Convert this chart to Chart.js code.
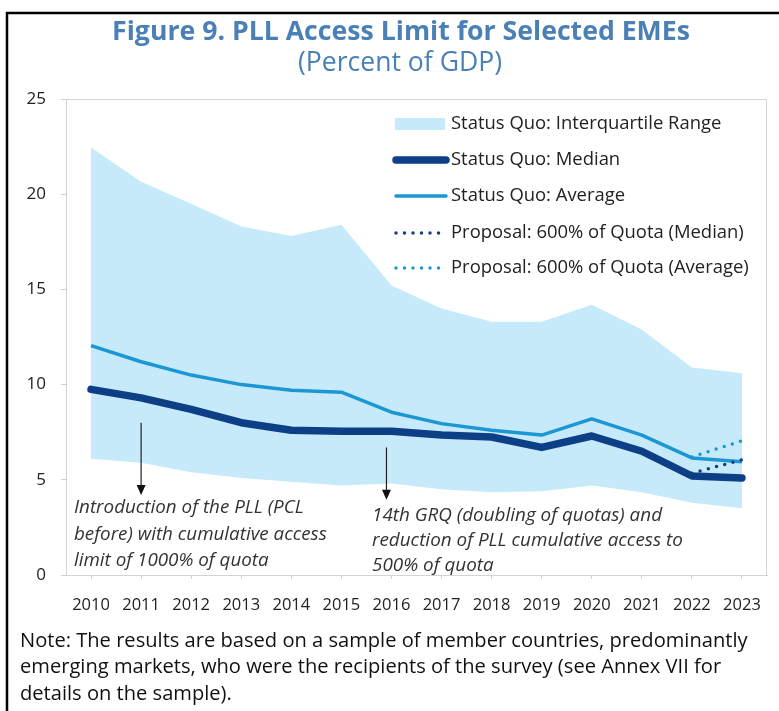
<!DOCTYPE html>
<html>
<head>
<meta charset="utf-8">
<script src="https://cdn.jsdelivr.net/npm/chart.js@4.4.1/dist/chart.umd.min.js"></script>
<style>
  html, body { margin: 0; padding: 0; background: #fff; }
  #wrap { width: 779px; height: 711px; position: relative; }
</style>
</head>
<body>
<div id="wrap"><canvas id="pll" width="779" height="711"></canvas></div>
<script>
// values (percent of GDP)
const years = ['2010','2011','2012','2013','2014','2015','2016','2017','2018','2019','2020','2021','2022','2023'];
const iqrLow = [6.1, 5.9, 5.4, 5.1, 4.9, 4.7, 4.8, 4.5, 4.35, 4.4, 4.7, 4.35, 3.8, 3.5];
const iqrHigh = [22.45, 20.65, 19.5, 18.3, 17.8, 18.4, 15.2, 14.0, 13.3, 13.3, 14.2, 12.9, 10.9, 10.6];
const sqAverage = [12.05, 11.2, 10.5, 10.0, 9.7, 9.6, 8.55, 7.95, 7.6, 7.35, 8.2, 7.35, 6.15, 5.95];
const sqMedian = [9.75, 9.3, 8.7, 8.0, 7.6, 7.55, 7.55, 7.35, 7.25, 6.7, 7.3, 6.5, 5.2, 5.1];
const propMedian = [null, null, null, null, null, null, null, null, null, null, null, null, 5.35, 6.05];
const propAverage = [null, null, null, null, null, null, null, null, null, null, null, null, 6.2, 7.05];
const yTicks = [0, 5, 10, 15, 20, 25];

const BAND = '#c6eafa';
const NAVY = '#0c3f85';
const SKY = '#1b97d4';
const FONT = "'Open Sans', 'Noto Sans', sans-serif";

// font size that makes the widest of some strings a given width
function fitSize(ctx, lines, font, width) {
  ctx.font = font.replace('SIZE', '100px');
  const w = Math.max(...[].concat(lines).map(l => ctx.measureText(l).width));
  return 100 * width / w;
}

function drawText(ctx, lines, x, y0, step, font, width, color) {
  const size = fitSize(ctx, lines, font, width);
  ctx.font = font.replace('SIZE', size.toFixed(2) + 'px');
  ctx.fillStyle = color;
  ctx.textBaseline = 'middle';
  lines.forEach((l, i) => ctx.fillText(l, x, y0 + i * step));
}

function arrow(ctx, x, yTop, yBot) {
  ctx.save();
  ctx.strokeStyle = '#222';
  ctx.fillStyle = '#111';
  ctx.lineWidth = 1.2;
  ctx.beginPath();
  ctx.moveTo(x, yTop);
  ctx.lineTo(x, yBot - 8);
  ctx.stroke();
  ctx.beginPath();
  ctx.moveTo(x - 4.5, yBot - 10);
  ctx.lineTo(x + 4.5, yBot - 10);
  ctx.lineTo(x, yBot);
  ctx.closePath();
  ctx.fill();
  ctx.restore();
}

const decor = {
  id: 'decor',
  beforeDraw(chart) {
    const ctx = chart.ctx;
    ctx.save();
    ctx.fillStyle = '#fff';
    ctx.fillRect(0, 0, chart.width, chart.height);
    // outer frame (only left and top show)
    ctx.strokeStyle = '#000';
    ctx.lineWidth = 2.5;
    ctx.beginPath();
    ctx.moveTo(7, 720);
    ctx.lineTo(7, 13);
    ctx.lineTo(790, 13);
    ctx.stroke();

    ctx.textAlign = 'center';
    ctx.textBaseline = 'middle';
    let s = fitSize(ctx, 'Figure 9. PLL Access Limit for Selected EMEs', `bold SIZE ${FONT}`, 578);
    ctx.font = `bold ${s.toFixed(2)}px ${FONT}`;
    ctx.fillStyle = '#4a80b5';
    ctx.fillText('Figure 9. PLL Access Limit for Selected EMEs', 401, 32);
    s = fitSize(ctx, '(Percent of GDP)', `SIZE ${FONT}`, 204);
    ctx.font = `${s.toFixed(2)}px ${FONT}`;
    ctx.fillText('(Percent of GDP)', 400, 63);

    ctx.textAlign = 'left';
    drawText(ctx, [
      'Note: The results are based on a sample of member countries, predominantly',
      'emerging markets, who were the recipients of the survey (see Annex VII for',
      'details on the sample).'
    ], 20, 641, 26.5, `SIZE ${FONT}`, 728, '#111');
    ctx.restore();
  },
  beforeDatasetsDraw(chart) {
    const { ctx, chartArea: a } = chart;
    ctx.save();
    ctx.strokeStyle = '#d4d4d4';
    ctx.lineWidth = 1;
    ctx.strokeRect(a.left + 0.5, a.top + 0.5, a.right - a.left - 1, a.bottom - a.top);
    ctx.restore();
  },
  afterDatasetsDraw(chart) {
    const { ctx, scales: { x, y } } = chart;
    ctx.save();
    // annotations
    arrow(ctx, x.getPixelForValue(1), y.getPixelForValue(8.0), y.getPixelForValue(4.2));
    arrow(ctx, x.getPixelForValue(5.9), y.getPixelForValue(6.7), y.getPixelForValue(3.95));
    ctx.textAlign = 'left';
    drawText(ctx, ['Introduction of the PLL (PCL', 'before) with cumulative access', 'limit of 1000% of quota'],
      74, 508, 26.5, `italic SIZE ${FONT}`, 253, '#333');
    drawText(ctx, ['14th GRQ (doubling of quotas) and', 'reduction of PLL cumulative access to', '500% of quota'],
      372, 516, 25, `italic SIZE ${FONT}`, 311, '#333');

    // legend inside the plot
    const ds = chart.data.datasets;
    const items = [
      { label: 'Status Quo: Interquartile Range', ds: ds[1], box: true },
      { label: ds[3].label, ds: ds[3] },
      { label: ds[2].label, ds: ds[2] },
      { label: ds[4].label, ds: ds[4] },
      { label: ds[5].label, ds: ds[5] }
    ];
    const ys = [124, 160, 196, 233, 268];
    const s = fitSize(ctx, items[4].label, `SIZE ${FONT}`, 298);
    items.forEach((it, i) => {
      const yy = ys[i];
      if (it.box) {
        ctx.fillStyle = it.ds.backgroundColor;
        ctx.fillRect(395, yy - 6, 50, 12);
      } else {
        ctx.strokeStyle = it.ds.borderColor;
        ctx.lineWidth = it.ds.borderWidth;
        ctx.lineCap = 'round';
        ctx.setLineDash(it.ds.borderDash || []);
        ctx.beginPath();
        ctx.moveTo(396, yy);
        ctx.lineTo(446, yy);
        ctx.stroke();
        ctx.setLineDash([]);
      }
      ctx.font = `${s.toFixed(2)}px ${FONT}`;
      ctx.fillStyle = '#222';
      ctx.textBaseline = 'middle';
      ctx.fillText(it.label, 451, yy);
    });
    ctx.restore();
  }
};

new Chart(document.getElementById('pll'), {
  type: 'line',
  data: {
    labels: years,
    datasets: [
      { label: 'IQR low', data: iqrLow, borderWidth: 0, pointRadius: 0, fill: false, order: 10 },
      { label: 'Status Quo: Interquartile Range', data: iqrHigh, borderWidth: 0, pointRadius: 0,
        backgroundColor: BAND, fill: '-1', order: 9 },
      { label: 'Status Quo: Average', data: sqAverage, borderColor: SKY, borderWidth: 3.5,
        pointRadius: 0, borderJoinStyle: 'round', fill: false, order: 3 },
      { label: 'Status Quo: Median', data: sqMedian, borderColor: NAVY, borderWidth: 7.5,
        pointRadius: 0, borderJoinStyle: 'round', borderCapStyle: 'round', fill: false, order: 2 },
      { label: 'Proposal: 600% of Quota (Median)', data: propMedian, borderColor: NAVY, borderWidth: 3.5,
        borderDash: [0, 8.5], borderCapStyle: 'round', pointRadius: 0, fill: false, order: 1 },
      { label: 'Proposal: 600% of Quota (Average)', data: propAverage, borderColor: SKY, borderWidth: 3.5,
        borderDash: [0, 8.5], borderCapStyle: 'round', pointRadius: 0, fill: false, order: 1 }
    ]
  },
  options: {
    responsive: false,
    animation: false,
    layout: { padding: { top: 99, left: 0, right: 12, bottom: 89 } },
    plugins: { legend: { display: false }, tooltip: { enabled: false }, title: { display: false } },
    scales: {
      x: {
        offset: true,
        border: { display: true, color: '#cfcfcf' },
        grid: { drawOnChartArea: false, drawTicks: true, tickLength: 4, color: '#cfcfcf' },
        ticks: { color: '#222', font: { family: FONT, size: 16.5 }, padding: 16, maxRotation: 0, autoSkip: false },
        afterFit(sc) { sc.height = 47; }
      },
      y: {
        min: 0, max: 25,
        afterBuildTicks(sc) { sc.ticks = yTicks.map(v => ({ value: v })); },
        border: { display: true, color: '#d4d4d4' },
        grid: { drawOnChartArea: false, drawTicks: true, tickLength: 5, color: '#cfcfcf' },
        ticks: { color: '#222', font: { family: FONT, size: 17 }, padding: 15 },
        afterFit(sc) { sc.width = 66; }
      }
    }
  },
  plugins: [decor]
});
</script>
</body>
</html>
